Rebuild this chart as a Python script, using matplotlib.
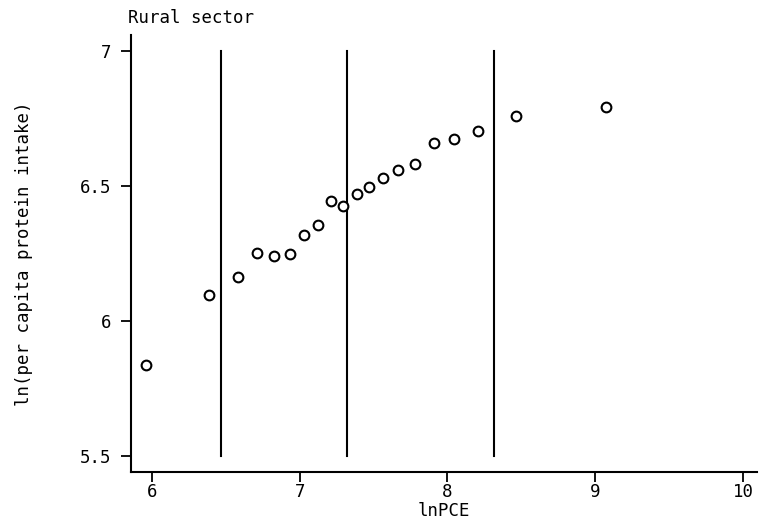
import numpy as np
import matplotlib
matplotlib.use("Agg")
import matplotlib.pyplot as plt

# datos (ln PCE vs ln ingesta de proteina per capita)
ln_pce = [5.959, 6.389, 6.584, 6.709, 6.826, 6.932, 7.031, 7.124, 7.209, 7.295,
          7.385, 7.472, 7.561, 7.668, 7.782, 7.912, 8.044, 8.208, 8.462, 9.073]
ln_protein = [5.837, 6.096, 6.164, 6.253, 6.241, 6.247, 6.317, 6.357, 6.444, 6.426,
              6.469, 6.495, 6.531, 6.560, 6.583, 6.658, 6.674, 6.705, 6.760, 6.794]

# cortes verticales
cortes = [6.470, 7.320, 8.315]
corte_y = (5.5, 7.0)

x_ticks = [6, 7, 8, 9, 10]
y_ticks = [5.5, 6, 6.5, 7]
y_tick_labels = ["5.5", "6", "6.5", "7"]

plt.rcParams['font.family'] = ['DejaVu Sans Mono']

fig = plt.figure(figsize=(7.62, 5.22), dpi=100)
ax = fig.add_axes([131/762, 50/522, 626/762, 437/522])

# lineas verticales
for c in cortes:
    ax.plot([c, c], corte_y, color='black', lw=1.5)

# puntos
ax.plot(ln_pce, ln_protein, linestyle='none', marker='o', markersize=7,
        markerfacecolor='white', markeredgecolor='black', markeredgewidth=1.5)

ax.set_xlim(5.858, 10.095)
ax.set_ylim(5.441, 7.059)

ax.spines['top'].set_visible(False)
ax.spines['right'].set_visible(False)
ax.spines['left'].set_linewidth(1.5)
ax.spines['bottom'].set_linewidth(1.5)

ax.set_xticks(x_ticks)
ax.set_xticklabels([str(v) for v in x_ticks])
ax.set_yticks(y_ticks)
ax.set_yticklabels(y_tick_labels)
ax.tick_params(axis='both', direction='out', length=7, width=1.3, labelsize=12.5)
ax.tick_params(axis='y', pad=7)
ax.tick_params(axis='x', pad=1)

ax.set_xlabel('lnPCE', fontsize=12.5, labelpad=0.5)
ax.set_ylabel('ln(per capita protein intake)', fontsize=12.5, labelpad=34)

fig.text(128/762, 1 - 18/522, 'Rural sector', fontsize=12.5, ha='left', va='center')

fig.savefig('out.png', dpi=100)
